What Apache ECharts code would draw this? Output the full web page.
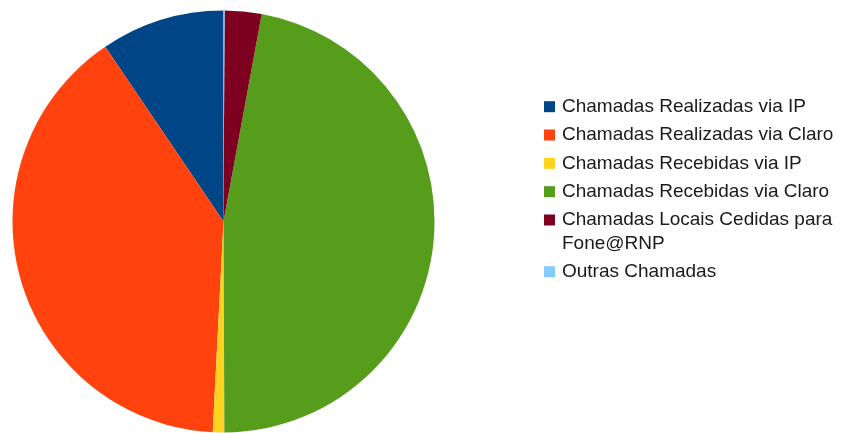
<!DOCTYPE html>
<html>
<head>
<meta charset="utf-8">
<script src="https://cdn.jsdelivr.net/npm/echarts@6/dist/echarts.min.js"></script>
<style>
  html, body { margin: 0; padding: 0; background: #fff; }
  #container { width: 841px; height: 433px; }
</style>
</head>
<body>
<div id="container"></div>
<script>
var categories = ['Chamadas Realizadas via IP', 'Chamadas Realizadas via Claro', 'Chamadas Recebidas via IP',
  'Chamadas Recebidas via Claro', 'Chamadas Locais Cedidas para Fone@RNP', 'Outras Chamadas'];
var values = [9.47, 39.71, 0.88, 47.03, 2.82, 0.08];
var colors = ['#004586', '#ff420e', '#ffd320', '#579d1c', '#7e0021', '#83caff'];

var myChart = echarts.init(document.getElementById('container'));

// centro vertical do ícone de cada item da legenda
var rowY = [106.7, 135, 163.3, 191.7, 220, 271.7];
var lh = 23.5;

var legends = categories.map(function (name, i) {
  var twoLines = name.indexOf('Fone@RNP') > 0;
  return {
    orient: 'vertical',
    left: 544,
    top: twoLines ? rowY[i] - 1.5 * lh : rowY[i] - lh / 2,
    padding: 0,
    itemWidth: 11,
    itemHeight: 11,
    icon: 'rect',
    selectedMode: false,
    data: [name],
    formatter: function (n) {
      // linha vazia no topo para o ícone ficar alinhado com a 1a linha
      return n.indexOf(' Fone@RNP') > 0 ? '\n' + n.replace(' Fone@RNP', '\nFone@RNP') : n;
    },
    textStyle: {
      fontFamily: 'Liberation Sans',
      fontSize: 19,
      color: '#1a1a1a',
      lineHeight: lh,
      padding: [0, 0, 0, 2]
    }
  };
});

var option = {
  animation: false,
  color: colors,
  legend: legends,
  series: [{
    type: 'pie',
    center: [223.5, 221.5],
    radius: 211,
    startAngle: 90,
    clockwise: false,
    label: { show: false },
    labelLine: { show: false },
    itemStyle: { borderWidth: 0 },
    emphasis: { disabled: true },
    data: categories.map(function (c, i) {
      return { name: c, value: values[i] };
    })
  }]
};
myChart.setOption(option);
</script>
</body>
</html>
